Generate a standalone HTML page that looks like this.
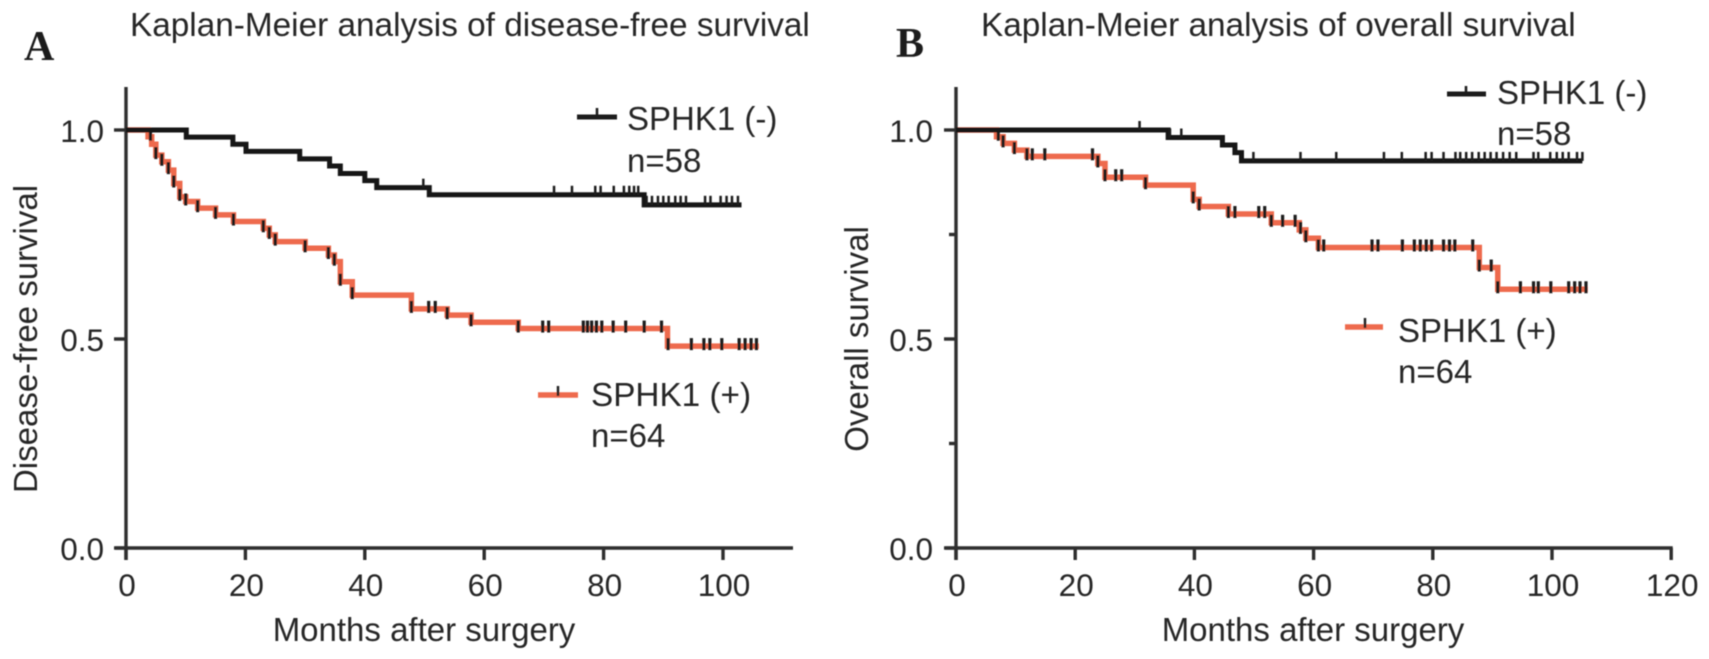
<!DOCTYPE html>
<html lang="en">
<head>
<meta charset="utf-8">
<title>Kaplan-Meier survival analysis</title>
<style>
html,body{margin:0;padding:0;background:#fff;width:1709px;height:659px;overflow:hidden}
svg{display:block}
text{font-family:"Liberation Sans",sans-serif;fill:#262626;font-size:33px}
.tt{font-size:33.35px}
.tk{font-size:31.5px}
.letter{font-family:"Liberation Serif",serif;font-weight:bold;font-size:42px;fill:#1a1a1a}
</style>
</head>
<body>
<svg id="figure" xmlns="http://www.w3.org/2000/svg" width="1709" height="659" viewBox="0 0 1709 659">
  <defs><filter id="soft" x="-2%" y="-2%" width="104%" height="104%"><feGaussianBlur stdDeviation="0.65"/></filter></defs>
  <rect width="1709" height="659" fill="#fff"/>
  <g id="root" filter="url(#soft)">
    <text class="letter" x="24" y="60">A</text>
    <text class="letter" x="896" y="57">B</text>
    <text class="tt" x="130" y="36">Kaplan-Meier analysis of disease-free survival</text>
    <text class="tt" x="981" y="36">Kaplan-Meier analysis of overall survival</text>

    <text x="27" y="339" text-anchor="middle" transform="rotate(-90 37 339) translate(10 0)">Disease-free survival</text>
    <text x="868" y="339" text-anchor="middle" transform="rotate(-90 868 339)">Overall survival</text>
    <text x="424" y="641" text-anchor="middle">Months after surgery</text>
    <text x="1313" y="641" text-anchor="middle">Months after surgery</text>

    <g id="panelA"></g>
    <g id="panelB"></g>

    <g>
      <line x1="577" x2="617" y1="117" y2="117" stroke="#1a1a1a" stroke-width="5"/>
      <line x1="597" x2="597" y1="108" y2="117" stroke="#1a1a1a" stroke-width="2.5"/>
      <text x="627" y="130">SPHK1 (-)</text>
      <text x="627" y="172">n=58</text>
    </g>
    <g>
      <line x1="538" x2="578" y1="395" y2="395" stroke="#ee6a4d" stroke-width="5.5"/>
      <line x1="558" x2="558" y1="386" y2="396" stroke="#222" stroke-width="2.5"/>
      <text x="591" y="406" style="font-size:33.3px">SPHK1 (+)</text>
      <text x="591" y="447">n=64</text>
    </g>
    <g>
      <line x1="1447" x2="1486" y1="94" y2="94" stroke="#1a1a1a" stroke-width="5"/>
      <line x1="1466" x2="1466" y1="86" y2="94" stroke="#1a1a1a" stroke-width="2.5"/>
      <text x="1497" y="104">SPHK1 (-)</text>
      <text x="1497" y="145">n=58</text>
    </g>
    <g>
      <line x1="1345" x2="1383" y1="327" y2="327" stroke="#ee6a4d" stroke-width="5.5"/>
      <line x1="1365" x2="1365" y1="318" y2="328" stroke="#222" stroke-width="2.5"/>
      <text x="1398" y="342">SPHK1 (+)</text>
      <text x="1398" y="383">n=64</text>
    </g>
  </g>
</svg>
<script>
// Panel A: disease-free survival
var dfsNegMonths = [10.1,17.9,20.1,29.1,34.1,35.9,40,42,50.8,86.8,103.1];
var dfsNegSurvival = [0.983,0.966,0.949,0.931,0.914,0.896,0.879,0.862,0.845,0.821,0.821];
var dfsNegCensored = [49.8,71.7,74.7,78.6,79.5,81.7,83.4,84.3,85.1,85.8,87.2,88.1,89.1,90,90.9,92,92.9,93.8,97,97.9,99.6,100.6,101.5,102.5];
var dfsPosMonths = [3.7,4.3,5,6,7.1,8,9,10,12,15,18,23,24,25,30,33.9,34.9,35.9,37.9,47.8,53.8,57.8,65.7,90.7,106];
var dfsPosSurvival = [0.984,0.966,0.940,0.924,0.904,0.872,0.840,0.829,0.813,0.797,0.781,0.765,0.749,0.733,0.717,0.701,0.685,0.637,0.605,0.572,0.557,0.540,0.525,0.483,0.483];
var dfsPosCensored = [4.1,5,6,7.1,8,9,10,12,15,18,23,24,25,30,33.9,34.9,35.9,37.9,47.8,50.7,51.8,53.8,57.8,65.7,69.8,70.8,76.6,77.3,78,78.8,79.7,81.6,83.7,86.8,89.7,90.8,94.7,96.8,97.8,99.8,102.7,103.7,104.7,105.6];
var panelAXTicks = [0,20,40,60,80,100];
var panelAYTicks = [0,0.5,1];
var panelAYMinor = [];

// Panel B: overall survival
var osNegMonths = [35.6,44.7,46.8,47.9,105.1];
var osNegSurvival = [0.982,0.964,0.946,0.926,0.926];
var osNegCensored = [30.8,35.9,37.8,49.9,57.8,63.8,71.8,74.8,78.8,79.8,81.8,83.8,84.6,85.6,86.6,87.7,88.7,89.7,90.7,91.8,92.9,94,96.9,97.7,99.7,100.8,101.8,102.8,104.2,105.1];
var osPosMonths = [6.8,7.9,9.8,11.9,23.8,25,31.8,39.8,40.8,45.7,52.9,57.6,58.7,60.8,87.8,90.9,106];
var osPosSurvival = [0.984,0.968,0.952,0.937,0.920,0.887,0.868,0.834,0.817,0.799,0.778,0.761,0.741,0.719,0.671,0.619,0.619];
var osPosCensored = [7.1,7.9,9.8,11.9,12.8,14.9,22.9,23.8,25,26.8,27.8,31.8,39.8,40.8,45.7,46.8,50.8,51.8,52.9,54.8,56.9,57.8,58.7,60.8,61.7,69.8,70.8,74.9,76.9,77.9,78.9,79.8,81.8,82.8,83.7,86.7,87.8,89.8,90.9,94.7,96.9,97.7,99.8,102.8,103.8,104.7,105.7];
var panelBXTicks = [0,20,40,60,80,100,120];
var panelBYTicks = [0,0.5,1];
var panelBYMinor = [0.25,0.75];

var NS = 'http://www.w3.org/2000/svg';
var INK = '#2e2e2e';
var BLACK_LINE = '#161616';
var RED_LINE = '#ee6a4d';

function yScale(s){ return 548 - 418 * s; }

function makeLine(parent, x1, y1, x2, y2, color, width){
  var l = document.createElementNS(NS, 'line');
  l.setAttribute('x1', x1);
  l.setAttribute('y1', y1);
  l.setAttribute('x2', x2);
  l.setAttribute('y2', y2);
  l.setAttribute('stroke', color);
  l.setAttribute('stroke-width', width);
  parent.appendChild(l);
  return l;
}

function levelAt(months, survival, t){
  var s = 1;
  for (var i = 0; i < months.length; i++) {
    if (months[i] <= t + 0.001) { s = survival[i]; }
  }
  return s;
}

function drawAxes(parent, xScale, xEnd, xTicks, yTicks, yMinor, yLabelRight){
  var xAxis = makeLine(parent, xScale(0) - 11, 548, xEnd, 548, INK, 3.4);
  
  
  var yAxis = makeLine(parent, xScale(0), 87, xScale(0), 560, INK, 3.4);
  
  
  xTicks.forEach(function(v){
    var t = makeLine(parent, xScale(v), 548, xScale(v), 560, INK, 3.4);
    
    
    var lab = document.createElementNS(NS, 'text');
    lab.setAttribute('class', 'tk');
    lab.setAttribute('x', xScale(v) + 1);
    lab.setAttribute('y', 596);
    lab.setAttribute('text-anchor', 'middle');
    
    
    lab.textContent = String(v);
    parent.appendChild(lab);
  });
  yTicks.forEach(function(v){
    var t = makeLine(parent, xScale(0) - 12, yScale(v), xScale(0), yScale(v), INK, 3.4);
    
    
    var lab = document.createElementNS(NS, 'text');
    lab.setAttribute('class', 'tk');
    lab.setAttribute('x', yLabelRight);
    lab.setAttribute('y', yScale(v) + 12);
    lab.setAttribute('text-anchor', 'end');
    
    
    lab.textContent = v.toFixed(1);
    parent.appendChild(lab);
  });
  yMinor.forEach(function(v){
    var t = makeLine(parent, xScale(0) - 7, yScale(v), xScale(0), yScale(v), INK, 3.4);
    
    
  });
}

function drawSeries(parent, xScale, months, survival, censored, color, width, tickUp, tickDown, tickWidth, name){
  var d = 'M' + xScale(0) + ' ' + yScale(1);
  for (var i = 0; i < months.length; i++) {
    d += ' H' + xScale(months[i]) + ' V' + yScale(survival[i]);
  }
  var p = document.createElementNS(NS, 'path');
  p.setAttribute('d', d);
  p.setAttribute('fill', 'none');
  p.setAttribute('stroke', color);
  p.setAttribute('stroke-width', width);
  
  
  parent.appendChild(p);
  censored.forEach(function(t){
    var y = yScale(levelAt(months, survival, t));
    var m = makeLine(parent, xScale(t), y - tickUp, xScale(t), y + tickDown, '#1e1e1e', tickWidth);
    
    
  });
}

function xScaleA(m){ return 126 + 5.97 * m; }
function xScaleB(m){ return 956 + 5.96 * m; }

var gA = document.getElementById('panelA');
var gB = document.getElementById('panelB');

drawSeries(gA, xScaleA, dfsPosMonths, dfsPosSurvival, dfsPosCensored, RED_LINE, 5.5, 8, 4, 3.2, 'dfs-sphk1-positive');
drawAxes(gA, xScaleA, 793, panelAXTicks, panelAYTicks, panelAYMinor, 104);
drawSeries(gA, xScaleA, dfsNegMonths, dfsNegSurvival, dfsNegCensored, BLACK_LINE, 5, 9, 0, 2.5, 'dfs-sphk1-negative');

drawSeries(gB, xScaleB, osPosMonths, osPosSurvival, osPosCensored, RED_LINE, 5.5, 8, 4, 3.2, 'os-sphk1-positive');
drawAxes(gB, xScaleB, xScaleB(120) + 1.5, panelBXTicks, panelBYTicks, panelBYMinor, 933);
drawSeries(gB, xScaleB, osNegMonths, osNegSurvival, osNegCensored, BLACK_LINE, 5, 9, 0, 2.5, 'os-sphk1-negative');
</script>
</body>
</html>
